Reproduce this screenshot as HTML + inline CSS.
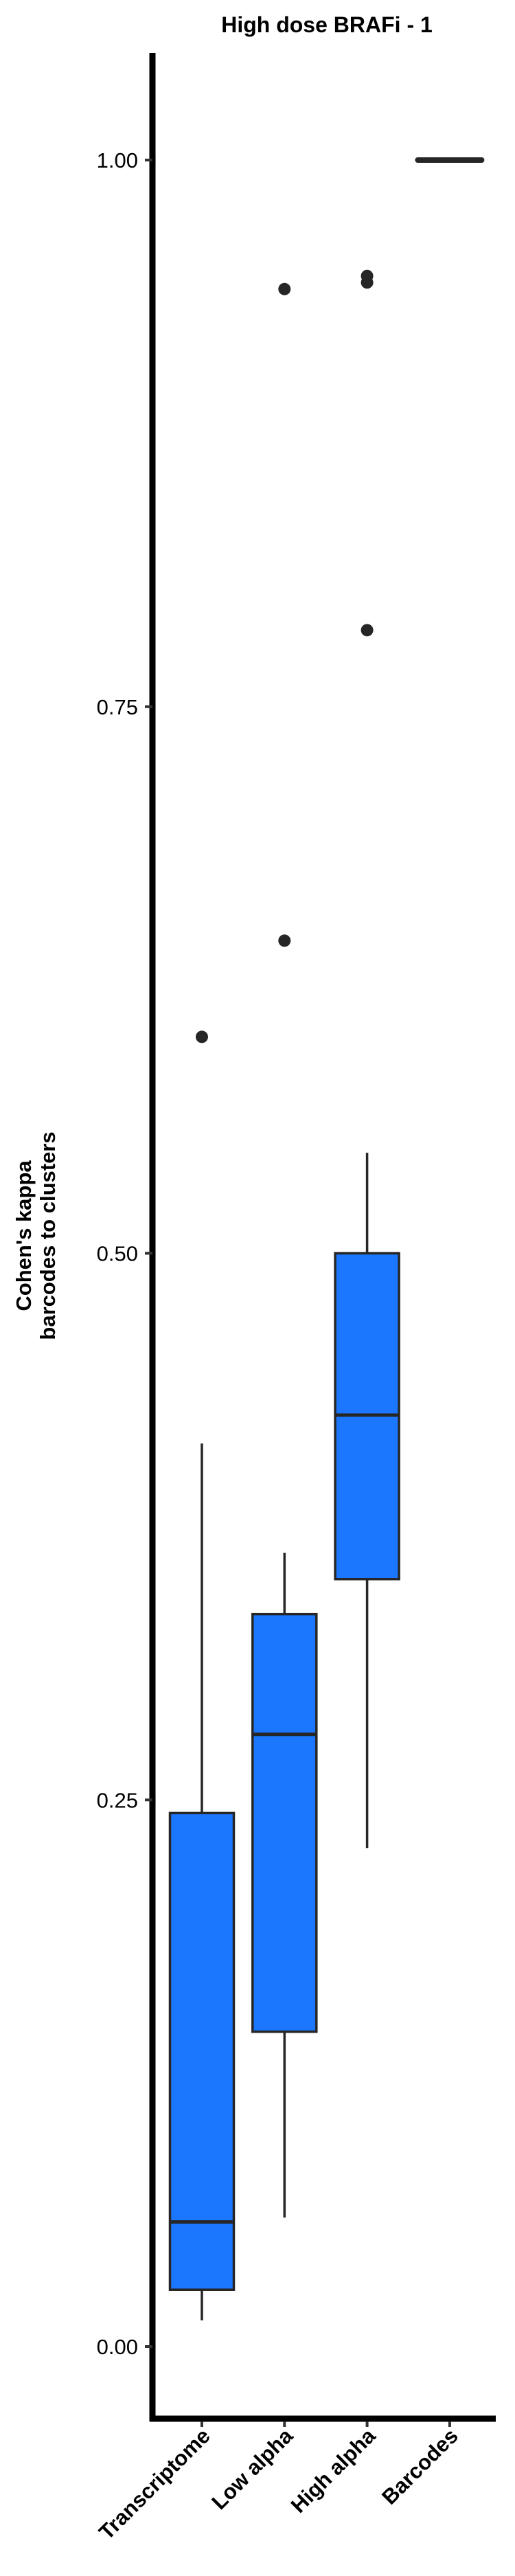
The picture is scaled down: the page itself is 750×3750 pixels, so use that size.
<!DOCTYPE html>
<html><head><meta charset="utf-8"><style>
html,body{margin:0;padding:0;background:#fff;}
svg{display:block;font-family:"Liberation Sans",Arial,sans-serif;}
</style></head><body>
<svg id="chart" width="750" height="3750" viewBox="0 0 750 3750" xmlns="http://www.w3.org/2000/svg">
<text x="476" y="47" text-anchor="middle" font-size="32" font-weight="bold" fill="#000">High dose BRAFi - 1</text>
<text transform="translate(45,1799) rotate(-90)" text-anchor="middle" font-size="31" font-weight="bold" fill="#000"><tspan x="0" dy="0">Cohen's kappa</tspan><tspan x="0" dy="35">barcodes to clusters</tspan></text>
<g id="marks"></g>
<g id="axes"></g>
</svg>
<script>
const categories = ["Transcriptome","Low alpha","High alpha","Barcodes"];
const lowerWhisker = [0.012, 0.059, 0.228, 1.0];
const q1 = [0.026, 0.144, 0.351, 1.0];
const median = [0.057, 0.280, 0.426, 1.0];
const q3 = [0.244, 0.335, 0.500, 1.0];
const upperWhisker = [0.413, 0.363, 0.546, 1.0];
const outlierCat = [0, 1, 1, 2, 2, 2];
const outlierVal = [0.599, 0.643, 0.941, 0.785, 0.947, 0.944];
const yTicks = [0, 0.25, 0.5, 0.75, 1.0];
const yTickLabels = ["0.00","0.25","0.50","0.75","1.00"];

const NS = "http://www.w3.org/2000/svg";
const y = v => 3416 - v * 3183;
const x = i => 294 + i * 120.3;
const BW = 93;
const marks = document.getElementById("marks");
const axes = document.getElementById("axes");
function mk(tag, attrs, parent) {
  const e = document.createElementNS(NS, tag);
  for (const k in attrs) e.setAttribute(k, attrs[k]);
  parent.appendChild(e);
  return e;
}
categories.forEach((c, i) => {
  const g = mk("g", {}, marks);
  
  
  const wu = mk("line", {x1: x(i), x2: x(i), y1: y(upperWhisker[i]), y2: y(q3[i]), stroke: "#262626", "stroke-width": 3.5}, g);
  
  
  const wl = mk("line", {x1: x(i), x2: x(i), y1: y(q1[i]), y2: y(lowerWhisker[i]), stroke: "#262626", "stroke-width": 3.5}, g);
  
  
  const r = mk("rect", {x: x(i) - BW / 2, y: y(q3[i]), width: BW, height: Math.max(0, y(q1[i]) - y(q3[i])), fill: "#1c77ff", stroke: "#262626", "stroke-width": 3.5}, g);
  
  
  const m = mk("line", {x1: x(i) - BW / 2, x2: x(i) + BW / 2, y1: y(median[i]), y2: y(median[i]), stroke: "#262626", "stroke-width": 5, "stroke-linecap": (q3[i] === q1[i] ? "round" : "butt")}, g);
  if (q3[i] === q1[i]) m.setAttribute("stroke-width", 8);
  
  
});
outlierVal.forEach((v, k) => {
  const p = mk("circle", {cx: x(outlierCat[k]), cy: y(v), r: 9, fill: "#262626"}, marks);
  
  
});
const ya = mk("line", {x1: 222, x2: 222, y1: 77, y2: 3525, stroke: "#000", "stroke-width": 9}, axes);


const xa = mk("line", {x1: 218, x2: 722, y1: 3521, y2: 3521, stroke: "#000", "stroke-width": 9}, axes);


yTicks.forEach((v, k) => {
  const t = mk("line", {x1: 211, x2: 222, y1: y(v), y2: y(v), stroke: "#333", "stroke-width": 4}, axes);
  
  
  const l = mk("text", {x: 201, y: y(v) + 11, "text-anchor": "end", "font-size": 31, fill: "#000"}, axes);
  l.textContent = yTickLabels[k];
  
  
});
categories.forEach((c, i) => {
  const t = mk("line", {x1: x(i), x2: x(i), y1: 3525, y2: 3533, stroke: "#333", "stroke-width": 4}, axes);
  
  
  const l = mk("text", {transform: "translate(" + (x(i) + 14) + ",3548) rotate(-45)", "text-anchor": "end", "font-size": 31, "font-weight": "bold", fill: "#000"}, axes);
  l.textContent = c;
  
  
});
</script>
</body></html>
